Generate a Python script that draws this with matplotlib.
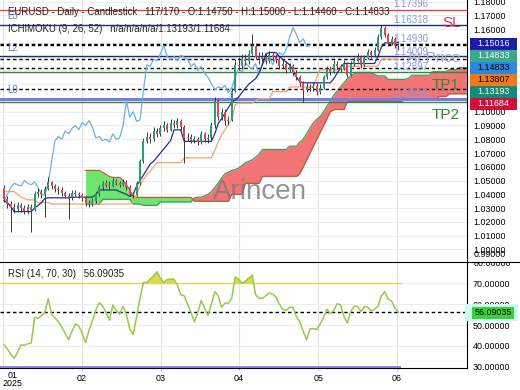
import numpy as np
import matplotlib
matplotlib.use('Agg')
import matplotlib.pyplot as plt
from matplotlib.patches import Rectangle
from matplotlib.lines import Line2D
from matplotlib.transforms import Bbox, TransformedBbox

plt.rcParams['font.family'] = ['Liberation Sans', 'DejaVu Sans']

W, H = 520, 390


def fx(px):
    return px / W


def fy(py):
    return 1 - py / H


# ---------------- data ----------------
first_open = 1.0436
closes = [
    1.0365, 1.0330, 1.0310, 1.0295, 1.0320, 1.0300, 1.0280, 1.0310, 1.0290, 1.0400,
    1.0420, 1.0400, 1.0440, 1.0490, 1.0460, 1.0440, 1.0430, 1.0410, 1.0390, 1.0380,
    1.0410, 1.0400, 1.0395, 1.0370, 1.0340, 1.0330, 1.0350, 1.0400, 1.0450, 1.0480,
    1.0470, 1.0460, 1.0500, 1.0480, 1.0470, 1.0490, 1.0450, 1.0400, 1.0395, 1.0480,
    1.0640, 1.0790, 1.0820, 1.0800, 1.0860, 1.0840, 1.0880, 1.0900, 1.0870, 1.0920,
    1.0900, 1.0935, 1.0890, 1.0810, 1.0820, 1.0790, 1.0800, 1.0780, 1.0840, 1.0800,
    1.0810, 1.0900, 1.1080, 1.0960, 1.1000, 1.0930, 1.0940, 1.1150, 1.1340, 1.1330,
    1.1380, 1.1370, 1.1420, 1.1480, 1.1400, 1.1380, 1.1400, 1.1370, 1.1410, 1.1395,
    1.1380, 1.1330, 1.1350, 1.1300, 1.1330, 1.1280, 1.1250, 1.1205, 1.1160, 1.1180,
    1.1170, 1.1190, 1.1140, 1.1175, 1.1250, 1.1310, 1.1290, 1.1350, 1.1330, 1.1310,
    1.1350, 1.1270, 1.1350, 1.1370, 1.1400, 1.1340, 1.1390, 1.1430, 1.1410, 1.1450,
    1.1540, 1.1610, 1.1560, 1.1500, 1.1530, 1.1475, 1.14833]
highs = [
    1.0465, 1.0390, 1.0350, 1.0335, 1.0345, 1.0340, 1.0320, 1.0330, 1.0330, 1.0425,
    1.0445, 1.0440, 1.0460, 1.0525, 1.0500, 1.0475, 1.0460, 1.0450, 1.0425, 1.0410,
    1.0430, 1.0430, 1.0420, 1.0410, 1.0385, 1.0360, 1.0370, 1.0420, 1.0470, 1.0500,
    1.0505, 1.0495, 1.0520, 1.0515, 1.0500, 1.0515, 1.0505, 1.0465, 1.0420, 1.0500,
    1.0660, 1.0810, 1.0850, 1.0845, 1.0890, 1.0880, 1.0905, 1.0930, 1.0920, 1.0945,
    1.0940, 1.0955, 1.0950, 1.0900, 1.0845, 1.0835, 1.0825, 1.0820, 1.0860, 1.0855,
    1.0835, 1.0925, 1.1105, 1.1095, 1.1030, 1.1020, 1.0970, 1.1175, 1.1380, 1.1400,
    1.1420, 1.1420, 1.1450, 1.1567, 1.1500, 1.1430, 1.1430, 1.1425, 1.1440, 1.1435,
    1.1420, 1.1400, 1.1380, 1.1370, 1.1355, 1.1345, 1.1300, 1.1270, 1.1220, 1.1205,
    1.1200, 1.1215, 1.1205, 1.1200, 1.1270, 1.1335, 1.1330, 1.1375, 1.1370, 1.1350,
    1.1375, 1.1360, 1.1370, 1.1395, 1.1425, 1.1410, 1.1410, 1.1455, 1.1450, 1.1470,
    1.1565, 1.1632, 1.1625, 1.1575, 1.1550, 1.1545, 1.1500]
lows = [
    1.0345, 1.0300, 1.0125, 1.0265, 1.0275, 1.0270, 1.0255, 1.0260, 1.0130, 1.0280,
    1.0380, 1.0375, 1.0235, 1.0430, 1.0440, 1.0420, 1.0405, 1.0390, 1.0370, 1.0220,
    1.0360, 1.0385, 1.0375, 1.0350, 1.0315, 1.0310, 1.0315, 1.0340, 1.0390, 1.0435,
    1.0450, 1.0440, 1.0450, 1.0465, 1.0455, 1.0460, 1.0435, 1.0385, 1.0375, 1.0385,
    1.0470, 1.0630, 1.0770, 1.0775, 1.0790, 1.0815, 1.0825, 1.0860, 1.0850, 1.0860,
    1.0880, 1.0885, 1.0870, 1.0630, 1.0790, 1.0770, 1.0770, 1.0755, 1.0765, 1.0780,
    1.0775, 1.0795, 1.0885, 1.0940, 1.0940, 1.0905, 1.0900, 1.0930, 1.1140, 1.1300,
    1.1310, 1.1340, 1.1350, 1.1410, 1.1380, 1.1350, 1.1360, 1.1345, 1.1355, 1.1370,
    1.1355, 1.1310, 1.1315, 1.1280, 1.1285, 1.1260, 1.1230, 1.1185, 1.1072, 1.1140,
    1.1150, 1.1150, 1.1120, 1.1125, 1.1165, 1.1240, 1.1270, 1.1280, 1.1310, 1.1290,
    1.1300, 1.1250, 1.1260, 1.1335, 1.1360, 1.1320, 1.1330, 1.1380, 1.1390, 1.1400,
    1.1440, 1.1530, 1.1540, 1.1480, 1.1485, 1.1460, 1.1446]

tenkan = [
    1.0355, 1.0340, 1.0310, 1.0275, 1.0275, 1.0275, 1.0275, 1.0275, 1.0275, 1.0300,
    1.0320, 1.0340, 1.0370, 1.0375, 1.0375, 1.0375, 1.0375, 1.0375, 1.0375, 1.0375,
    1.0380, 1.0380, 1.0380, 1.0380, 1.0380, 1.0380, 1.0380, 1.0400, 1.0432, 1.0432,
    1.0432, 1.0432, 1.0432, 1.0432, 1.0420, 1.0410, 1.0400, 1.0385, 1.0400, 1.0460,
    1.0500, 1.0540, 1.0580, 1.0620, 1.0640, 1.0670, 1.0700, 1.0730, 1.0760, 1.0790,
    1.0868, 1.0868, 1.0868, 1.0785, 1.0785, 1.0785, 1.0785, 1.0785, 1.0785, 1.0785,
    1.0785, 1.0785, 1.0840, 1.0915, 1.0950, 1.0990, 1.1030, 1.1070, 1.1085, 1.1107,
    1.1140, 1.1170, 1.1200, 1.1220, 1.1240, 1.1280, 1.1340, 1.1420, 1.1430, 1.1430,
    1.1430, 1.1400, 1.1380, 1.1360, 1.1340, 1.1300, 1.1250, 1.1220, 1.1210, 1.1210,
    1.1210, 1.1210, 1.1210, 1.1210, 1.1210, 1.1210, 1.1210, 1.1240, 1.1280, 1.1320,
    1.1350, 1.1350, 1.1350, 1.1350, 1.1350, 1.1350, 1.1350, 1.1350, 1.1350, 1.1350,
    1.1400, 1.1470, 1.1500, 1.1500, 1.1500, 1.1500, 1.1502]
kijun = [
    1.0420, 1.0420, 1.0420, 1.0420, 1.0400, 1.0380, 1.0370, 1.0360, 1.0360, 1.0360,
    1.0340, 1.0340, 1.0340, 1.0340, 1.0330, 1.0330, 1.0330, 1.0330, 1.0330, 1.0330,
    1.0330, 1.0330, 1.0330, 1.0330, 1.0330, 1.0330, 1.0330, 1.0330, 1.0330, 1.0330,
    1.0330, 1.0330, 1.0330, 1.0330, 1.0330, 1.0330, 1.0330, 1.0330, 1.0340, 1.0400,
    1.0460, 1.0510, 1.0540, 1.0570, 1.0600, 1.0630, 1.0630, 1.0630, 1.0630, 1.0630,
    1.0630, 1.0630, 1.0630, 1.0665, 1.0665, 1.0665, 1.0665, 1.0665, 1.0665, 1.0665,
    1.0665, 1.0665, 1.0720, 1.0780, 1.0830, 1.0870, 1.0910, 1.0945, 1.1050, 1.1062,
    1.1062, 1.1062, 1.1062, 1.1062, 1.1080, 1.1095, 1.1095, 1.1095, 1.1095, 1.1146,
    1.1146, 1.1146, 1.1146, 1.1146, 1.1180, 1.1180, 1.1180, 1.1180, 1.1180, 1.1180,
    1.1180, 1.1180, 1.1250, 1.1306, 1.1306, 1.1306, 1.1306, 1.1306, 1.1306, 1.1306,
    1.1306, 1.1330, 1.1330, 1.1330, 1.1330, 1.1330, 1.1330, 1.1330, 1.1330, 1.1330,
    1.1330, 1.1381, 1.1381, 1.1381, 1.1381, 1.1381, 1.1381]

# leading spans, first value sits at candle number 24
cloud_start = 24
span_a = [
    1.0328, 1.0328, 1.0328, 1.0328, 1.0328, 1.0364, 1.0364, 1.0364, 1.0364, 1.0364,
    1.0364, 1.0364, 1.0364, 1.0364, 1.0330, 1.0330, 1.0330, 1.0320, 1.0320, 1.0320,
    1.0320, 1.0320, 1.0345, 1.0345, 1.0345, 1.0345, 1.0345, 1.0345, 1.0345, 1.0345,
    1.0345, 1.0345, 1.0375, 1.0380, 1.0380, 1.0390, 1.0400, 1.0420, 1.0450, 1.0480,
    1.0520, 1.0550, 1.0560, 1.0574, 1.0580, 1.0590, 1.0610, 1.0630, 1.0640, 1.0650,
    1.0670, 1.0690, 1.0726, 1.0726, 1.0726, 1.0726, 1.0726, 1.0726, 1.0726, 1.0726,
    1.0750, 1.0750, 1.0750, 1.0780, 1.0800, 1.0840, 1.0880, 1.0920, 1.0945, 1.0965,
    1.1000, 1.1040, 1.1080, 1.1120, 1.1150, 1.1180, 1.1210, 1.1240, 1.1260, 1.1275,
    1.1285, 1.1285, 1.1285, 1.1285, 1.1285, 1.1270, 1.1260, 1.1260, 1.1260, 1.1235,
    1.1235, 1.1235, 1.1235, 1.1235, 1.1235, 1.1245, 1.1265, 1.1265, 1.1265, 1.1265,
    1.1265, 1.1265, 1.1290, 1.1290, 1.1290, 1.1290, 1.1290, 1.1306, 1.1306, 1.1306,
    1.1320, 1.1320, 1.1320]
span_b = [
    1.0574, 1.0574, 1.0574, 1.0574, 1.0574, 1.0560, 1.0545, 1.0530, 1.0523, 1.0523,
    1.0523, 1.0500, 1.0470, 1.0430, 1.0390, 1.0378, 1.0378, 1.0378, 1.0378, 1.0378,
    1.0378, 1.0378, 1.0378, 1.0378, 1.0378, 1.0378, 1.0378, 1.0378, 1.0378, 1.0378,
    1.0378, 1.0378, 1.0350, 1.0350, 1.0350, 1.0350, 1.0350, 1.0350, 1.0350, 1.0350,
    1.0350, 1.0350, 1.0350, 1.0400, 1.0400, 1.0400, 1.0400, 1.0480, 1.0480, 1.0480,
    1.0480, 1.0480, 1.0530, 1.0530, 1.0530, 1.0530, 1.0530, 1.0530, 1.0530, 1.0530,
    1.0530, 1.0530, 1.0530, 1.0550, 1.0600, 1.0650, 1.0700, 1.0750, 1.0800, 1.0850,
    1.0900, 1.0950, 1.1000, 1.1016, 1.1016, 1.1016, 1.1016, 1.1075, 1.1075, 1.1075,
    1.1075, 1.1075, 1.1075, 1.1075, 1.1075, 1.1075, 1.1075, 1.1075, 1.1075, 1.1075,
    1.1075, 1.1075, 1.1075, 1.1075, 1.1090, 1.1090, 1.1090, 1.1090, 1.1090, 1.1090,
    1.1090, 1.1090, 1.1090, 1.1090, 1.1110, 1.1110, 1.1110, 1.1130, 1.1130, 1.1130,
    1.1130, 1.1130, 1.1130]

rsi = [
    40.5, 38.5, 36.0, 34.0, 37.0, 40.5, 40.3, 41.0, 41.4, 53.7,
    53.2, 54.5, 56.0, 62.6, 55.0, 53.5, 51.5, 48.9, 46.0, 43.0,
    47.0, 50.5, 49.5, 46.0, 41.6, 47.5, 52.0, 57.0, 60.6, 59.2,
    56.0, 52.3, 59.5, 57.0, 55.2, 59.0, 55.0, 48.0, 45.5, 54.0,
    63.0, 70.3, 70.5, 72.0, 73.5, 75.5, 72.5, 70.5, 71.8, 72.0,
    72.0, 69.0, 64.5, 64.0, 60.0, 56.0, 51.5, 56.0, 61.8, 58.0,
    54.5, 60.0, 66.0, 64.0, 58.5, 60.5, 60.5, 63.0, 73.0, 72.0,
    70.0, 71.0, 72.5, 74.0, 64.5, 62.8, 62.8, 64.0, 65.3, 64.8,
    63.5, 60.0, 57.5, 57.0, 58.5, 58.5, 54.0, 51.5, 47.0, 43.0,
    48.1, 48.3, 47.8, 50.5, 53.7, 57.5, 55.5, 57.0, 60.2, 59.6,
    54.0, 51.0, 56.5, 59.0, 59.0, 56.5, 58.8, 58.5, 56.8, 57.5,
    59.0, 64.0, 66.0, 62.4, 61.5, 58.0, 56.09035]
rsi_last = 56.09035

month_pos = [-0.3, 22.9, 46.2, 69.1, 92.4, 115.6]
month_labels = ['01', '02', '03', '04', '05', '06']
price_ticks = [1.00, 1.01, 1.02, 1.03, 1.04, 1.05, 1.06, 1.07, 1.08, 1.09,
               1.10, 1.11, 1.12, 1.13, 1.14, 1.15, 1.16, 1.17, 1.18]
rsi_ticks = [30, 40, 50, 60, 70]

red_level = 1.17396
navy_levels = [1.16318, 1.14009]
green_levels = [1.12897, 1.1068]
purple_level = 1.10936
dashed_levels = [1.14930, 1.14833, 1.13807, 1.13193, 1.11684]
level_texts = ['1.17396', '1.16318', '1.14930', '1.14009', '1.12897', '1.10936']
box_texts = ['1.15016', '1.14833', '1.14833', '1.13807', '1.13193', '1.11684']

# ---------------- figure ----------------
closes = np.array(closes)
highs = np.array(highs)
lows = np.array(lows)
opens = np.r_[first_open, closes[:-1]]
idx = np.arange(len(closes))

fig = plt.figure(figsize=(5.2, 3.9), dpi=100)
ax = fig.add_axes([0, fy(262), fx(467), 262 / H])
rax = fig.add_axes([0, fy(368), fx(467), 106 / H])

for a in (ax, rax):
    a.set_xlim(-1.18, 136.18)
    for s in ('left', 'top', 'bottom'):
        a.spines[s].set_visible(False)
    a.spines['right'].set_color('black')
    a.spines['right'].set_linewidth(0.8)
    for m in month_pos:
        a.axvline(m, color='#e2e2e2', lw=0.8, zorder=0)
rax.spines['bottom'].set_visible(True)
rax.spines['bottom'].set_linewidth(0.8)

ax.set_ylim(0.9909, 1.1811)
for p in price_ticks:
    ax.axhline(p, color='#ededed', lw=0.8, zorder=0)

# cloud
ci = np.arange(cloud_start, cloud_start + len(span_a))
sa = np.array(span_a)
sb = np.array(span_b)
ax.fill_between(ci, sa, sb, where=sb >= sa, interpolate=True,
                color='#5fe35f', alpha=0.9, lw=0, zorder=1)
ax.fill_between(ci, sa, sb, where=sa > sb, interpolate=True,
                color='#f26d6d', alpha=0.95, lw=0, zorder=1)
ax.plot(ci, sa, color='#3f9b5c', lw=0.9, zorder=2)
ax.plot(ci, sb, color='#b5603e', lw=0.9, zorder=2)

# level lines
ax.axhline(red_level, color='#e03a3a', lw=0.9, zorder=3)
for p in navy_levels:
    ax.axhline(p, color='#1f2a80', lw=1.0, zorder=3)
for p in green_levels:
    ax.axhline(p, color='#2e8b3e', lw=1.0, zorder=3)
ax.axhline(purple_level, color='#7a7ae0', lw=2.2, zorder=3)
for p in dashed_levels:
    ax.axhline(p, color='black', lw=1.0, ls=(0, (2.5, 2)), zorder=3)

# ichimoku lines
ax.plot(idx[:-26], closes[26:], color='#6db0e6', lw=0.9, zorder=4)
ax.plot(idx, kijun, color='#f0a468', lw=0.9, zorder=4)
ax.plot(idx, tenkan, color='#2c2c90', lw=0.9, zorder=4)

# candles
up = closes >= opens
body_lo = np.minimum(opens, closes)
body_h = np.maximum(np.abs(closes - opens), 0.0004)
ax.vlines(idx, lows, highs, color='#3a3a3a', lw=0.7, zorder=5)
ax.bar(idx[up], body_h[up], bottom=body_lo[up], width=0.62,
       color='#2a9d76', lw=0, zorder=6)
ax.bar(idx[~up], body_h[~up], bottom=body_lo[~up], width=0.62,
       color='#e2445c', lw=0, zorder=6)

ax.yaxis.tick_right()
ax.set_yticks(price_ticks)
ax.set_yticklabels(['%.5f' % p for p in price_ticks])
ax.tick_params(axis='y', length=0, pad=4.3, labelsize=6.4)
ax.set_xticks([])

# RSI panel
rax.set_ylim(29.4, 80.2)
for v in [40, 50, 60, 70]:
    rax.axhline(v, color='#ededed', lw=0.8, zorder=0)
rsi_arr = np.array(rsi)
rax.hlines(70, -1.18, 116.9, color='#e2d45a', lw=1.0, zorder=2)
rax.hlines(30, -1.18, 116.9, color='#8c7ae6', lw=1.3, zorder=2)
rax.fill_between(idx, rsi_arr, 70, where=rsi_arr > 70, interpolate=True,
                 color='#d6d63c', alpha=0.9, lw=0, zorder=2)
rax.axhline(rsi_last, color='black', lw=1.0, ls=(0, (2.5, 2)), zorder=3)
rax.plot(idx, rsi_arr, color='#9ac94a', lw=1.1, zorder=4)
rax.yaxis.tick_right()
rax.set_yticks(rsi_ticks)
rax.set_yticklabels(['%.5f' % v for v in rsi_ticks])
rax.tick_params(axis='y', length=0, pad=4.3, labelsize=6.4)
rax.set_xticks(month_pos[1:])
rax.set_xticklabels(month_labels[1:])
rax.tick_params(axis='x', length=2, color='#cccccc', pad=2, labelsize=6.4)

fig.add_artist(Line2D([0, 1], [fy(262), fy(262)], color='black', lw=0.8))

# ---------------- texts ----------------
fig.text(fx(13), fy(375), month_labels[0], ha='center', va='center', fontsize=6.4)
fig.text(fx(13), fy(384), '2025', ha='center', va='center', fontsize=6.4)
fig.text(fx(474), fy(254.5), '0.99000', ha='left', va='center', fontsize=6.4)
t80 = fig.text(fx(474), fy(263), '80.00000', ha='left', va='center', fontsize=6.4)
t80.set_clip_box(TransformedBbox(Bbox.from_extents(fx(468), fy(390), 1, fy(262.5)),
                                 fig.transFigure))
t80.set_clip_on(True)

fig.text(fx(8), fy(12), 'EURUSD - Daily - Candlestick   117/170 - O:1.14750 - '
         'H:1.15000 - L:1.14460 - C:1.14833', fontsize=6.9, va='center', color='#222222')
fig.text(fx(8), fy(29.5), 'ICHIMOKU (9, 26, 52)   n/a/n/a/n/a/1.13193/1.11684',
         fontsize=6.9, va='center', color='#222222')
fig.text(fx(8), fy(274), 'RSI (14, 70, 30)   56.09035', fontsize=6.9,
         va='center', color='#222222')

for s, py in zip(['L3', 'L2', 'L0'], [16, 48, 90]):
    fig.text(fx(7), fy(py), s, fontsize=7, va='center', color='#6a80c8')

for s, py in zip(level_texts, [4, 20, 39, 52, 67, 94]):
    fig.text(fx(393), fy(py), s, fontsize=7, va='center', color='#8c9ae0', zorder=0.5)

fig.text(fx(442), fy(23), 'SL', fontsize=11, va='center', color='#d63a5a')
fig.text(fx(407), fy(58), 'At Price', fontsize=11, va='center', color='#a0aac8')
fig.text(fx(432), fy(85), 'TP1', fontsize=11, va='center', color='#2e8b2e')
fig.text(fx(432), fy(115), 'TP2', fontsize=11, va='center', color='#2e8b2e')

fig.text(fx(260), fy(192), 'Arincen', fontsize=20, ha='center', va='center',
         color='#7a7a7a', alpha=0.8)

box_colors = ['#1c1ca8', '#3aa88a', '#2a88e0', '#ee7a1a', '#138a7a', '#d0103a']
box_fg = ['white', 'white', 'black', 'black', 'white', 'white']
for k, (s, bc, fc) in enumerate(zip(box_texts, box_colors, box_fg)):
    top = 38 + 12 * k
    fig.add_artist(Rectangle((fx(470), fy(top + 12)), fx(517) - fx(470), 12 / H,
                             transform=fig.transFigure, fc=bc, ec='none', zorder=2))
    fig.text(fx(493.5), fy(top + 6), s, ha='center', va='center', fontsize=6.4,
             color=fc, zorder=3)

fig.add_artist(Rectangle((fx(465), fy(321)), fx(518) - fx(465), 17 / H,
                         transform=fig.transFigure, fc='#c9fbf3', ec='none', zorder=2))
fig.add_artist(Rectangle((fx(472), fy(318.5)), fx(514) - fx(472), 12 / H,
                         transform=fig.transFigure, fc='#3ad23a', ec='none', zorder=2))
fig.text(fx(493), fy(312.5), '56.09035', ha='center', va='center', fontsize=6.4,
         color='black', zorder=3)

fig.savefig('out.png', dpi=100)
